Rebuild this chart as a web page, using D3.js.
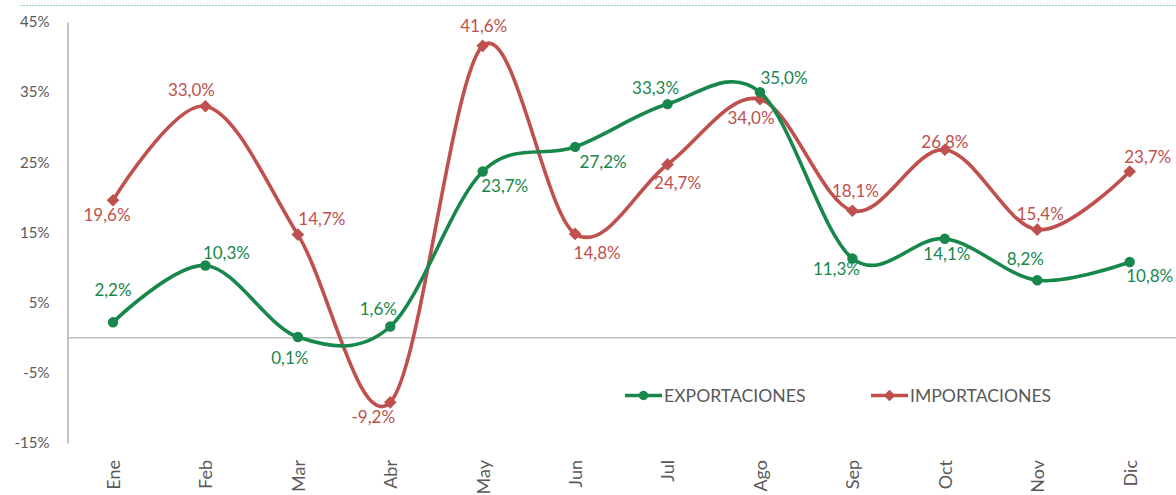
<!DOCTYPE html>
<html>
<head>
<meta charset="utf-8">
<script src="https://cdn.jsdelivr.net/npm/d3@7"></script>
<style>
  body { margin: 0; background: #fff; }
  svg { display: block; font-family: Lato, "Open Sans", sans-serif; }
</style>
</head>
<body>
<div id="chart"></div>
<script>
// datos
var meses = ["Ene", "Feb", "Mar", "Abr", "May", "Jun", "Jul", "Ago", "Sep", "Oct", "Nov", "Dic"];
var exportaciones = [2.2, 10.3, 0.1, 1.6, 23.7, 27.2, 33.3, 35.0, 11.3, 14.1, 8.2, 10.8];
var importaciones = [19.6, 33.0, 14.7, -9.2, 41.6, 14.8, 24.7, 34.0, 18.1, 26.8, 15.4, 23.7];
var yTicks = [-15, -5, 5, 15, 25, 35, 45];

// label offsets (dx, dy) relative to each point
var expLabelPos = [[0, -32], [21, -12], [-8, 21], [-12, -17], [22, 15], [28, 15],
                   [-12, -16], [24, -14], [-16, 11], [2, 15], [-12, -21], [20, 14]];
var impLabelPos = [[-6, 15], [-14, -16], [24, -16], [-17, 15], [1, -20], [22, 19],
                   [10, 19], [-9, 19], [3, -20], [0, -8], [3, -16], [18, -14]];

var width = 1176, height = 495;
var verde = "#17874C", rojo = "#C0504D";

var svg = d3.select("#chart").append("svg")
    .attr("width", width)
    .attr("height", height);

var x = d3.scalePoint().domain(meses).range([113, 1129.7]);
var y = d3.scaleLinear().domain([-15, 45]).range([443, 22]);

var es = d3.formatLocale({decimal: ",", thousands: ".", grouping: [3], currency: ["", "€"], minus: "-"});
var fmt = es.format(".1f");

// top dashed line
svg.append("line")
    .attr("x1", 20).attr("x2", width)
    .attr("y1", 5.5).attr("y2", 5.5)
    .attr("stroke", "#8fd3b8")
    .attr("stroke-width", 1)
    .attr("stroke-dasharray", "2,1");

// y axis
var yAxis = svg.append("g")
    .attr("transform", "translate(67.5,0)")
    .call(d3.axisLeft(y).tickValues(yTicks).tickSize(0).tickSizeOuter(0).tickPadding(18)
        .tickFormat(function(d) { return d + "%"; }));
yAxis.select(".domain").attr("stroke", "#a6a6a6").attr("stroke-width", 1.3);
yAxis.selectAll("text").attr("fill", "#595959").style("font-size", "15px")
    .style("font-family", "Lato, 'Open Sans', sans-serif");

// zero line
svg.append("line")
    .attr("x1", 67).attr("x2", width)
    .attr("y1", y(0)).attr("y2", y(0))
    .attr("stroke", "#bfbfbf")
    .attr("stroke-width", 1.3);

// month labels
var xAxis = svg.append("g")
    .attr("transform", "translate(0,460)")
    .call(d3.axisBottom(x).tickSize(0).tickPadding(0));
xAxis.select(".domain").remove();
xAxis.selectAll("text")
    .attr("transform", "rotate(-90)")
    .attr("x", 0).attr("y", 0).attr("dy", "0.35em")
    .attr("text-anchor", "end")
    .attr("fill", "#595959")
    .style("font-size", "18px")
    .style("font-family", "Lato, 'Open Sans', sans-serif");

var line = d3.line()
    .x(function(d, i) { return x(meses[i]); })
    .y(function(d) { return y(d); })
    .curve(d3.curveCardinal.tension(0));

function serie(values, color, shape, labelPos) {
    var g = svg.append("g");
    g.append("path")
        .datum(values)
        .attr("d", line)
        .attr("fill", "none")
        .attr("stroke", color)
        .attr("stroke-width", 3.6)
        .attr("stroke-linejoin", "round");
    g.selectAll("path.mk")
        .data(values)
        .join("path")
        .attr("class", "mk")
        .attr("d", d3.symbol().type(shape).size(shape === d3.symbolCircle ? 85 : 80))
        .attr("transform", function(d, i) { return "translate(" + x(meses[i]) + "," + y(d) + ")" + (shape === d3.symbolSquare ? " rotate(45)" : ""); })
        .attr("fill", color);
    g.selectAll("text")
        .data(values)
        .join("text")
        .attr("x", function(d, i) { return x(meses[i]) + labelPos[i][0]; })
        .attr("y", function(d, i) { return y(d) + labelPos[i][1]; })
        .attr("dy", "0.35em")
        .attr("text-anchor", "middle")
        .attr("fill", color)
        .style("font-size", "17px")
        .text(function(d) { return fmt(d) + "%"; });
}

serie(importaciones, rojo, d3.symbolSquare, impLabelPos);
serie(exportaciones, verde, d3.symbolCircle, expLabelPos);

// legend
var legend = [
    {name: "EXPORTACIONES", color: verde, shape: d3.symbolCircle, x: 625},
    {name: "IMPORTACIONES", color: rojo, shape: d3.symbolSquare, x: 871}
];
var lg = svg.selectAll("g.legend")
    .data(legend)
    .join("g")
    .attr("class", "legend")
    .attr("transform", function(d) { return "translate(" + d.x + ",395.5)"; });
lg.append("line")
    .attr("x1", 0).attr("x2", 37)
    .attr("stroke", function(d) { return d.color; })
    .attr("stroke-width", 3.6);
lg.append("path")
    .attr("d", function(d) { return d3.symbol().type(d.shape).size(d.shape === d3.symbolCircle ? 70 : 65)(); })
    .attr("transform", function(d) { return "translate(18.5,0)" + (d.shape === d3.symbolSquare ? " rotate(45)" : ""); })
    .attr("fill", function(d) { return d.color; });
lg.append("text")
    .attr("x", 39)
    .attr("dy", "0.35em")
    .attr("fill", "#595959")
    .style("font-size", "17.6px")
    .text(function(d) { return d.name; });
</script>
</body>
</html>
